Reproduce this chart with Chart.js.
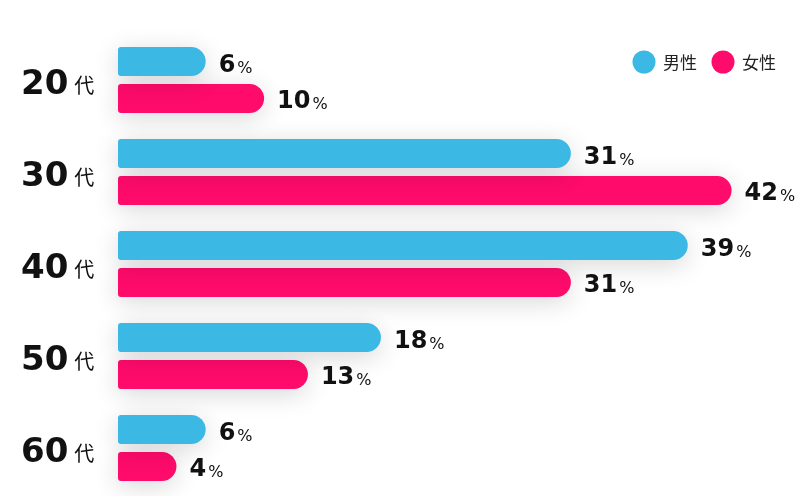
<!DOCTYPE html>
<html lang="ja">
<head>
<meta charset="UTF-8" />
<title>年代別</title>
<script src="https://cdn.jsdelivr.net/npm/chart.js@4"></script>
<style>
  html, body { margin: 0; padding: 0; background: #fff; }
  .wrap { width: 800px; height: 496px; position: relative; }
</style>
</head>
<body>
<div class="wrap"><canvas id="ageChart"></canvas></div>
<script>
  // data
  const categories = ['20代', '30代', '40代', '50代', '60代'];
  const seriesNames = ['男性', '女性'];
  const maleValues = [6, 31, 39, 18, 6];
  const femaleValues = [10, 42, 31, 13, 4];
  const seriesColors = ['#3bb9e4', '#fe0b6b'];

  const digitFont = '"DejaVu Sans", sans-serif';
  const cjkFont = '"Noto Sans CJK JP", sans-serif';

  // soft shadow under the bars
  const barShadow = {
    id: 'barShadow',
    beforeDatasetsDraw(chart) {
      const ctx = chart.ctx;
      ctx.save();
      ctx.shadowColor = 'rgba(0,0,0,0.16)';
      ctx.shadowBlur = 26;
      ctx.shadowOffsetY = 5;
    },
    afterDatasetsDraw(chart) {
      chart.ctx.restore();
    }
  };

  // "20代" style labels + value labels + legend
  const labelsPlugin = {
    id: 'labelsPlugin',
    afterDraw(chart) {
      const ctx = chart.ctx;
      const yScale = chart.scales.y;
      ctx.save();
      ctx.fillStyle = '#111';
      ctx.textBaseline = 'alphabetic';
      ctx.textAlign = 'left';

      categories.forEach((cat, i) => {
        const y = yScale.getPixelForValue(i);
        const m = cat.match(/^(\d+)(.*)$/);
        ctx.font = 'bold 34px ' + digitFont;
        ctx.fillText(m[1], 21, y + 14);
        const w = ctx.measureText(m[1]).width;
        ctx.font = '20px ' + cjkFont;
        ctx.fillText(m[2], 21 + w + 6, y + 13);
      });

      chart.data.datasets.forEach((ds, di) => {
        const meta = chart.getDatasetMeta(di);
        meta.data.forEach((bar, i) => {
          const x = bar.x + 13;
          const y = bar.y;
          ctx.font = 'bold 24px ' + digitFont;
          const txt = String(ds.data[i]);
          ctx.fillText(txt, x, y + 10);
          const w = ctx.measureText(txt).width;
          ctx.font = '16px ' + digitFont;
          ctx.fillText('%', x + w + 2, y + 11);
        });
      });

      // legend
      const legendX = [644, 723];
      seriesNames.forEach((name, i) => {
        ctx.beginPath();
        ctx.fillStyle = seriesColors[i];
        ctx.arc(legendX[i], 62, 11.5, 0, Math.PI * 2);
        ctx.fill();
        ctx.fillStyle = '#222';
        ctx.font = '17px ' + cjkFont;
        ctx.fillText(name, legendX[i] + 19, 69);
      });
      ctx.restore();
    }
  };

  const radius = { topLeft: 3, bottomLeft: 3, topRight: 15, bottomRight: 15 };

  new Chart(document.getElementById('ageChart'), {
    type: 'bar',
    data: {
      labels: categories,
      datasets: [
        {
          label: seriesNames[0],
          data: maleValues,
          backgroundColor: seriesColors[0],
          borderRadius: radius,
          borderSkipped: false,
          clip: false
        },
        {
          label: seriesNames[1],
          data: femaleValues,
          backgroundColor: seriesColors[1],
          borderRadius: radius,
          borderSkipped: false,
          clip: false
        }
      ]
    },
    options: {
      indexAxis: 'y',
      responsive: true,
      maintainAspectRatio: false,
      animation: false,
      barPercentage: 0.78,
      categoryPercentage: 0.804,
      layout: { padding: { left: 118, right: 10, top: 34, bottom: 2 } },
      scales: {
        x: { display: false, min: 0, max: 46 },
        y: { display: false }
      },
      plugins: {
        legend: { display: false },
        tooltip: { enabled: false }
      }
    },
    plugins: [barShadow, labelsPlugin]
  });
</script>
</body>
</html>
